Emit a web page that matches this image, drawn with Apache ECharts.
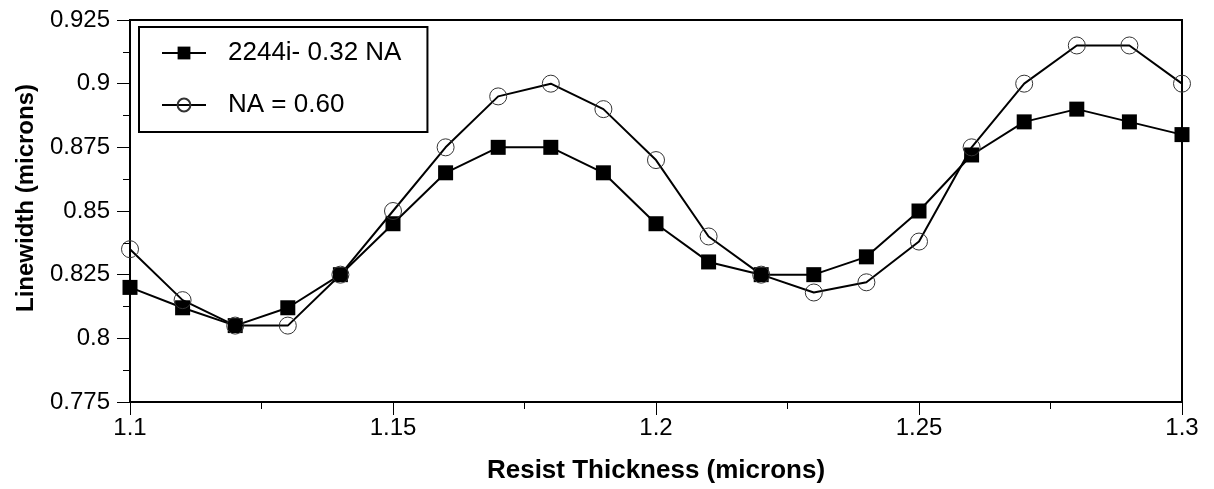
<!DOCTYPE html>
<html>
<head>
<meta charset="utf-8">
<script src="https://cdn.jsdelivr.net/npm/echarts@6/dist/echarts.min.js"></script>
<style>
  html, body { margin: 0; padding: 0; background: #fff; }
  #chart { width: 1214px; height: 489px; }
</style>
</head>
<body>
<div id="chart"></div>
<script>
  // resist thickness (microns)
  const thickness = [1.10, 1.11, 1.12, 1.13, 1.14, 1.15, 1.16, 1.17, 1.18, 1.19, 1.20,
    1.21, 1.22, 1.23, 1.24, 1.25, 1.26, 1.27, 1.28, 1.29, 1.30];
  // linewidth, 2244i- 0.32 NA
  const lw032 = [0.820, 0.812, 0.805, 0.812, 0.825, 0.845, 0.865, 0.875, 0.875, 0.865, 0.845,
    0.830, 0.825, 0.825, 0.832, 0.850, 0.872, 0.885, 0.890, 0.885, 0.880];
  // linewidth, NA = 0.60
  const lw060 = [0.835, 0.815, 0.805, 0.805, 0.825, 0.850, 0.875, 0.895, 0.900, 0.890, 0.870,
    0.840, 0.825, 0.818, 0.822, 0.838, 0.875, 0.900, 0.915, 0.915, 0.900];
  const seriesNames = ['2244i- 0.32 NA', 'NA = 0.60'];

  const font = '"Liberation Sans", Arial, sans-serif';
  const pair = ys => thickness.map((x, i) => [x, ys[i]]);

  const chart = echarts.init(document.getElementById('chart'));
  chart.setOption({
    animation: false,
    grid: {
      left: 130, right: 32, top: 20, bottom: 87,
      outerBoundsMode: 'none',
      containLabel: false,
      show: true, borderColor: '#000', borderWidth: 2
    },
    legend: {
      orient: 'vertical',
      left: 139, top: 27,
      padding: [13, 26, 14, 22],
      itemGap: 26,
      itemWidth: 44,
      itemHeight: 16,
      backgroundColor: '#fff',
      borderColor: '#000',
      borderWidth: 2,
      textStyle: { fontFamily: font, fontSize: 26, lineHeight: 26, color: '#000', padding: [0, 0, 0, 17] },
      data: seriesNames
    },
    xAxis: {
      type: 'value',
      min: 1.1, max: 1.3, interval: 0.05,
      name: 'Resist Thickness (microns)',
      nameLocation: 'middle',
      nameGap: 56,
      nameTextStyle: { fontFamily: font, fontSize: 26, fontWeight: 'bold', color: '#000' },
      axisLine: { lineStyle: { color: '#000', width: 2 } },
      axisTick: { length: 13, lineStyle: { color: '#000', width: 1 } },
      minorTick: { show: true, splitNumber: 2, length: 7, lineStyle: { color: '#000', width: 1 } },
      splitLine: { show: false },
      axisLabel: { fontFamily: font, fontSize: 24, color: '#000', margin: 14 }
    },
    yAxis: {
      type: 'value',
      min: 0.775, max: 0.925, interval: 0.025,
      name: 'Linewidth (microns)',
      nameLocation: 'middle',
      nameGap: 92,
      nameTextStyle: { fontFamily: font, fontSize: 24, fontWeight: 'bold', color: '#000', padding: [0, 0, 0, 26] },
      axisLine: { show: true, lineStyle: { color: '#000', width: 2 } },
      axisTick: { show: true, length: 13, lineStyle: { color: '#000', width: 1 } },
      minorTick: { show: true, splitNumber: 2, length: 7, lineStyle: { color: '#000', width: 1 } },
      splitLine: { show: false },
      axisLabel: { fontFamily: font, fontSize: 24, color: '#000', margin: 20 }
    },
    series: [{
      type: 'line',
      name: seriesNames[0],
      data: pair(lw032),
      symbol: 'rect',
      symbolSize: 15,
      lineStyle: { color: '#000', width: 2 },
      itemStyle: { color: '#000' }
    }, {
      type: 'line',
      name: seriesNames[1],
      data: pair(lw060),
      symbol: 'circle',
      symbolSize: 17,
      lineStyle: { color: '#000', width: 2 },
      itemStyle: { color: 'rgba(0,0,0,0)', borderColor: '#333', borderWidth: 1 }
    }]
  });
</script>
</body>
</html>
